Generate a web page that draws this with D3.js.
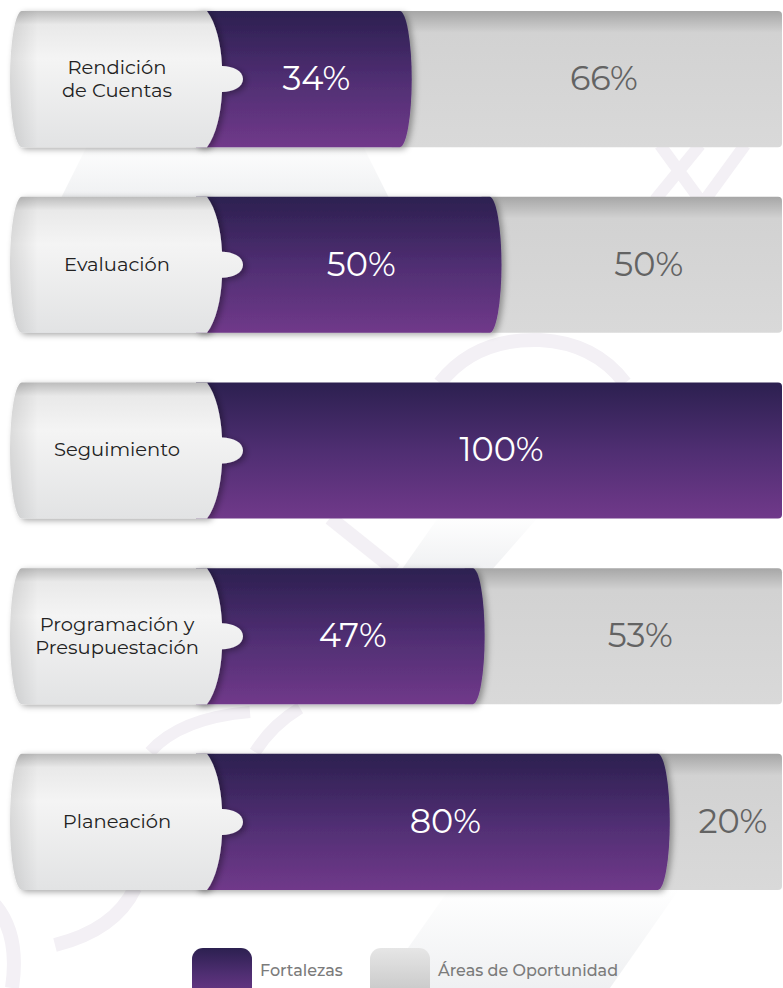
<!DOCTYPE html>
<html>
<head>
<meta charset="utf-8">
<script src="https://cdn.jsdelivr.net/npm/d3@7"></script>
<style>
  html, body { margin: 0; padding: 0; background: #fff; }
  svg { display: block; font-family: Montserrat, 'DejaVu Sans', sans-serif; }
</style>
</head>
<body>
<div class="viz"></div>
<script>
// categories, top to bottom, split in the lines shown in the label
const categories = [
  ['Rendición', 'de Cuentas'],
  ['Evaluación'],
  ['Seguimiento'],
  ['Programación y', 'Presupuestación'],
  ['Planeación'],
];
// percentage of strengths and areas of opportunity
const fortalezas = [34, 50, 100, 47, 80];
const oportunidad = [66, 50, 0, 53, 20];
const legendLabels = ['Fortalezas', 'Áreas de Oportunidad'];

const width = 783;
const height = 988;

const svg = d3
  .select('.viz')
  .append('svg')
  .attr('width', width)
  .attr('height', height)
  .attr('viewBox', `0 0 ${width} ${height}`);

const defs = svg.append('defs');

// gradients for the purple bars, gray bars and the label pills
function addGradient(id, stops) {
  const g = defs
    .append('linearGradient')
    .attr('id', id)
    .attr('x1', 0)
    .attr('x2', 0)
    .attr('y1', 0)
    .attr('y2', 1);
  stops.forEach(([offset, color]) => {
    g.append('stop').attr('offset', offset).attr('stop-color', color);
  });
}
addGradient('purple', [[0, '#2c2050'], [0.5, '#4f2e72'], [1, '#70398a']]);
addGradient('gray', [[0, '#a6a6a6'], [0.16, '#d2d2d2'], [1, '#d9d9d9']]);
addGradient('pill', [[0, '#bcbcbc'], [0.1, '#e9e9e9'], [0.35, '#f4f4f4'], [1, '#e2e3e4']]);
addGradient('legend-gray', [[0, '#e6e6e6'], [1, '#c4c4c4']]);
addGradient('band', [[0, 'rgba(228,230,233,0)'], [1, 'rgba(228,230,233,0.6)']]);

const leftShade = defs
  .append('linearGradient')
  .attr('id', 'left-shade')
  .attr('x1', 0)
  .attr('x2', 1);
leftShade.append('stop').attr('offset', 0).attr('stop-color', 'rgba(0,0,0,0.10)');
leftShade.append('stop').attr('offset', 0.12).attr('stop-color', 'rgba(0,0,0,0)');

defs
  .append('filter')
  .attr('id', 'shadow')
  .attr('x', '-10%')
  .attr('y', '-10%')
  .attr('width', '130%')
  .attr('height', '130%')
  .append('feDropShadow')
  .attr('dx', 3)
  .attr('dy', 2)
  .attr('stdDeviation', 3)
  .attr('flood-color', '#000')
  .attr('flood-opacity', 0.35);

// faint watermark in the background
const decor = svg.append('g').attr('class', 'decor');
const faint = '#f3f0f5';
decor.append('path')
  .attr('d', 'M300 140 L360 140 L390 200 L330 200 Z M90 140 L300 140 L330 200 L60 200 Z')
  .attr('fill', 'url(#band)');
decor.append('path')
  .attr('d', 'M660 145 L700 200 M700 145 L655 200 M745 145 L705 200')
  .attr('stroke', faint)
  .attr('stroke-width', 12)
  .attr('fill', 'none');
decor.append('path')
  .attr('d', 'M440 383 Q475 338 540 340 Q595 343 625 383')
  .attr('stroke', faint)
  .attr('stroke-width', 14)
  .attr('fill', 'none');
decor.append('path')
  .attr('d', 'M330 518 L395 570')
  .attr('stroke', faint)
  .attr('stroke-width', 14)
  .attr('fill', 'none');
decor.append('path')
  .attr('d', 'M400 572 L490 572 L540 515 L440 515 Z')
  .attr('fill', 'url(#band)');
decor.append('path')
  .attr('d', 'M150 752 Q180 718 250 712 M255 752 Q272 725 300 708')
  .attr('stroke', faint)
  .attr('stroke-width', 12)
  .attr('fill', 'none');
decor.append('path')
  .attr('d', 'M-5 905 Q20 935 12 988 M55 945 Q115 930 135 888')
  .attr('stroke', faint)
  .attr('stroke-width', 14)
  .attr('fill', 'none');
decor.append('path')
  .attr('d', 'M450 888 L680 888 L610 988 L380 988 Z')
  .attr('fill', 'url(#band)');

// scales
const xScale = d3
  .scaleLinear()
  .domain([0, 100])
  .range([221, 782]);

const yScale = d3
  .scaleBand()
  .domain(d3.range(categories.length))
  .range([11, 890])
  .paddingInner(0.267);

const bandH = yScale.bandwidth();

const rows = svg
  .selectAll('g.row')
  .data(categories.map((lines, i) => ({ lines, f: fortalezas[i], o: oportunidad[i], i })))
  .enter()
  .append('g')
  .attr('class', 'row')
  .attr('transform', d => `translate(0 ${yScale(d.i)})`);

// gray bar: areas de oportunidad, running from the end of the purple bar to the right edge
rows
  .filter(d => d.o > 0)
  .append('path')
  .attr('fill', 'url(#gray)')
  .attr('d', d => {
    const x0 = xScale(d.f) - 20;
    const x1 = xScale(d.f + d.o);
    return `M${x0} 0 L${x1 - 4} 0 Q${x1} 0 ${x1} 4 L${x1} ${bandH - 4} Q${x1} ${bandH} ${x1 - 4} ${bandH} L${x0} ${bandH} Z`;
  });

// purple bar: fortalezas, with an elliptical right end
rows
  .append('path')
  .attr('fill', 'url(#purple)')
  .attr('filter', d => (d.f < 100 ? 'url(#shadow)' : null))
  .attr('d', d => {
    const x0 = xScale(0) - 25;
    const x1 = xScale(d.f);
    if (d.f >= 100) {
      return `M${x0} 0 L${x1 - 4} 0 Q${x1} 0 ${x1} 4 L${x1} ${bandH - 4} Q${x1} ${bandH} ${x1 - 4} ${bandH} L${x0} ${bandH} Z`;
    }
    return `M${x0} 0 L${x1 - 12} 0 A12 ${bandH / 2} 0 0 1 ${x1 - 12} ${bandH} L${x0} ${bandH} Z`;
  });

// label pill with a small notch pointing into the bar
function pillPath() {
  const m = bandH / 2;
  const r = xScale(0);
  return [
    `M22 0 L${r - 14} 0`,
    `C${r - 5} 12 ${r} ${m - 35} ${r + 1} ${m - 13}`,
    `C${r + 12} ${m - 13} ${r + 22} ${m - 8} ${r + 22} ${m}`,
    `C${r + 22} ${m + 8} ${r + 12} ${m + 13} ${r + 1} ${m + 13}`,
    `C${r} ${m + 35} ${r - 5} ${bandH - 12} ${r - 14} ${bandH}`,
    `L22 ${bandH}`,
    `A12 ${m} 0 0 1 22 0 Z`,
  ].join(' ');
}

rows
  .append('path')
  .attr('fill', 'url(#pill)')
  .attr('filter', 'url(#shadow)')
  .attr('d', pillPath());

rows
  .append('path')
  .attr('fill', 'url(#left-shade)')
  .attr('d', pillPath());

// category labels
rows
  .append('text')
  .attr('x', 117)
  .attr('text-anchor', 'middle')
  .attr('fill', '#222')
  .attr('font-size', 19.5)
  .attr('font-weight', 400)
  .each(function (d) {
    const t = d3.select(this);
    const lh = 23;
    const start = bandH / 2 - ((d.lines.length - 1) * lh) / 2 + 6;
    d.lines.forEach((line, k) => {
      t.append('tspan')
        .attr('x', 117)
        .attr('y', start + k * lh)
        .text(line);
    });
  });

// percentage values
rows
  .append('text')
  .attr('x', d => (xScale(0) + xScale(d.f)) / 2)
  .attr('y', bandH / 2 + 11)
  .attr('text-anchor', 'middle')
  .attr('fill', '#fff')
  .attr('font-size', 33.5)
  .text(d => `${d.f}%`);

rows
  .filter(d => d.o > 0)
  .append('text')
  .attr('x', d => (xScale(d.f) + xScale(d.f + d.o)) / 2 + 7)
  .attr('y', bandH / 2 + 11)
  .attr('text-anchor', 'middle')
  .attr('fill', '#636363')
  .attr('font-size', 33.5)
  .text(d => `${d.o}%`);

// legend
const legend = svg.append('g').attr('class', 'legend');
const legendX = [192, 370];
const legendFill = ['url(#purple)', 'url(#legend-gray)'];
legendLabels.forEach((label, i) => {
  legend.append('rect')
    .attr('x', legendX[i])
    .attr('y', 948)
    .attr('width', 60)
    .attr('height', 52)
    .attr('rx', 11)
    .attr('fill', legendFill[i]);
  legend.append('text')
    .attr('x', legendX[i] + 68)
    .attr('y', 976)
    .attr('fill', '#7b7b7b')
    .attr('font-size', 16)
    .attr('font-weight', 500)
    .text(label);
});
</script>
</body>
</html>
